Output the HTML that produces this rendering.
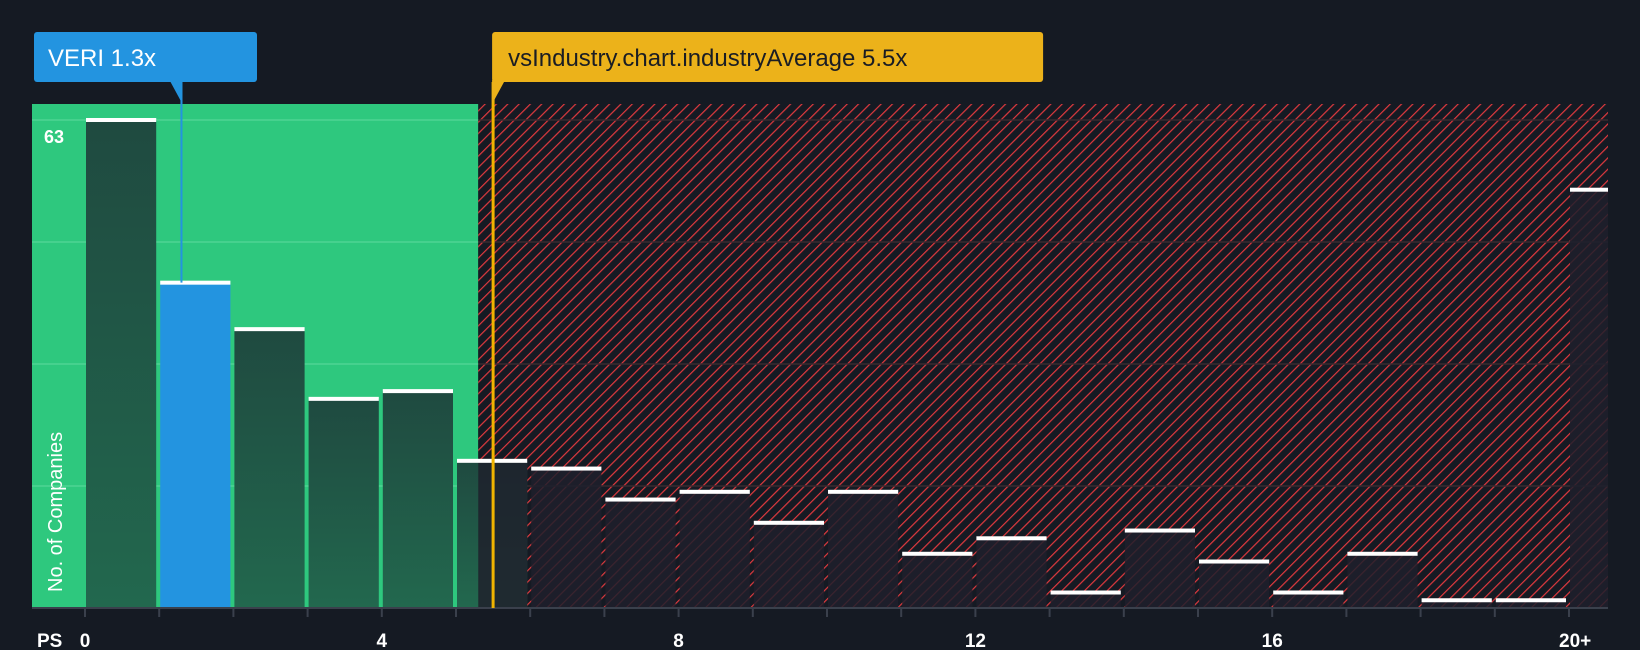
<!DOCTYPE html>
<html><head><meta charset="utf-8"><style>
html,body{margin:0;padding:0;background:#151a23;}
svg{display:block;font-family:"Liberation Sans",sans-serif;}
</style></head><body>
<svg id="chart" width="1640" height="650" viewBox="0 0 1640 650">
<defs>
<pattern id="hatch" width="8" height="8" patternUnits="userSpaceOnUse" patternTransform="rotate(45)">
<rect width="8" height="8" fill="#151a23"/>
<line x1="0" y1="0" x2="0" y2="8" stroke="#e0393e" stroke-width="2.4"/>
</pattern>
<linearGradient id="gbar" x1="0" y1="0" x2="0" y2="1">
<stop offset="0" stop-color="#1f4a40"/><stop offset="1" stop-color="#22684e"/>
</linearGradient>
</defs>
<rect x="0" y="0" width="1640" height="650" fill="#151a23"/>
<rect id="goodZone" y="104" height="504" fill="#2ec87e"/>
<rect id="badZone" y="104" height="504" fill="url(#hatch)"/>
<g id="grid"></g>
<g id="bars"></g>
<line x1="32" y1="608" x2="1608" y2="608" stroke="#3a404c" stroke-width="2"/>
<g id="ticks"></g>
<text x="44" y="143" fill="#ffffff" font-size="18" font-weight="bold">63</text>
<text transform="translate(62,592) rotate(-90)" fill="#ffffff" font-size="20">No. of Companies</text>
<text x="37" y="647" fill="#ffffff" font-size="19" font-weight="bold">PS</text>
<g id="markers"></g>
</svg>
<script>
const binStarts = [0,1,2,3,4,5,6,7,8,9,10,11,12,13,14,15,16,17,18,19,20];
const counts = [63,42,36,27,28,19,18,14,15,11,15,7,9,2,10,6,2,7,1,1,54];
const tickValues = [0,4,8,12,16,20];
const tickLabels = ["0","4","8","12","16","20+"];
const companyValue = [1.3];
const industryAvg = [5.5];
const companyLabel = "VERI 1.3x";
const industryLabel = "vsIndustry.chart.industryAverage 5.5x";
const yMax = 63;

const NS="http://www.w3.org/2000/svg";
const X0=85, UNIT=74.2, Y0=608, YTOP=120, PLOTL=32, PLOTR=1608;
const x = v => X0 + v*UNIT;
const y = v => Y0 - v*(Y0-YTOP)/yMax;
function mk(tag, attrs, parent){const e=document.createElementNS(NS,tag);for(const k in attrs)e.setAttribute(k,attrs[k]);parent.appendChild(e);return e;}
const svg=document.getElementById('chart');
const avgX=x(industryAvg[0]);
const zoneSplit=x(5.3);
const gz=document.getElementById('goodZone'); gz.setAttribute('x',PLOTL); gz.setAttribute('width',zoneSplit-PLOTL);
const bz=document.getElementById('badZone'); bz.setAttribute('x',zoneSplit); bz.setAttribute('width',PLOTR-zoneSplit);

const grid=document.getElementById('grid');
for(let i=1;i<=4;i++){
  const gy=y(yMax*i/4);
  const g1=mk('line',{x1:PLOTL,x2:zoneSplit,y1:gy,y2:gy,stroke:'#4fd493','stroke-width':1.5},grid);
  
  
  const g2=mk('line',{x1:zoneSplit,x2:PLOTR,y1:gy,y2:gy,stroke:'#3a2a30','stroke-width':1.5},grid);
  
  
}

const bars=document.getElementById('bars');
binStarts.forEach((b,i)=>{
  const left=x(b)+1, right=(i===binStarts.length-1)?PLOTR:x(b+1)-3;
  const top=y(counts[i]);
  const isCompany = companyValue[0]>=b && companyValue[0]<b+1;
  const inGood = left < zoneSplit;
  const fill = isCompany ? '#2394e0' : (inGood ? 'url(#gbar)' : 'rgba(30,32,44,0.85)');
  const r=mk('rect',{x:left,y:top,width:right-left,height:Y0-top,fill:fill},bars);
  
  
  if(!isCompany && inGood && right>zoneSplit){
    const ov=mk('rect',{x:zoneSplit,y:top,width:right-zoneSplit,height:Y0-top,fill:'rgba(30,32,44,0.85)'},bars);
    
    
  }
  const cap=mk('rect',{x:left,y:top-2,width:right-left,height:4,fill:'#ffffff'},bars);
  
  
});

const ticks=document.getElementById('ticks');
for(let v=0; v<=20; v++){
  const t=mk('line',{x1:x(v),x2:x(v),y1:Y0,y2:Y0+9,stroke:'#3a404c','stroke-width':2},ticks);
  
  
}
tickValues.forEach((v,i)=>{
  const t=mk('text',{x:x(v),y:647,fill:'#ffffff','font-size':19,'font-weight':'bold','text-anchor':(i===tickValues.length-1?'start':'middle')},ticks);
  if(i===tickValues.length-1) t.setAttribute('x',x(v)-10);
  t.textContent=tickLabels[i];
  
  
});

const m=document.getElementById('markers');
// industry average
const al=mk('line',{x1:avgX,x2:avgX,y1:82,y2:Y0,stroke:'#f0b400','stroke-width':3},m);


const ab=mk('rect',{x:avgX-1,y:32,width:551,height:50,rx:3,fill:'#ecb21a'},m);


const ap=mk('path',{d:`M${avgX-1} 80 L${avgX+12} 80 L${avgX-1} 104 Z`,fill:'#ecb21a'},m);


const at=mk('text',{x:avgX+15,y:66,fill:'#1a1d24','font-size':24},m);
at.textContent=industryLabel;


// company
const cx=x(companyValue[0]);
const cl=mk('line',{x1:cx,x2:cx,y1:82,y2:y(counts[1]),stroke:'#2394e0','stroke-width':2},m);


const cb=mk('rect',{x:34,y:32,width:223,height:50,rx:3,fill:'#2394e0'},m);


const cp=mk('path',{d:`M${cx-12} 80 L${cx+1} 80 L${cx+1} 104 Z`,fill:'#2394e0'},m);


const ct=mk('text',{x:48,y:66,fill:'#ffffff','font-size':24},m);
ct.textContent=companyLabel;


</script>
</body></html>
